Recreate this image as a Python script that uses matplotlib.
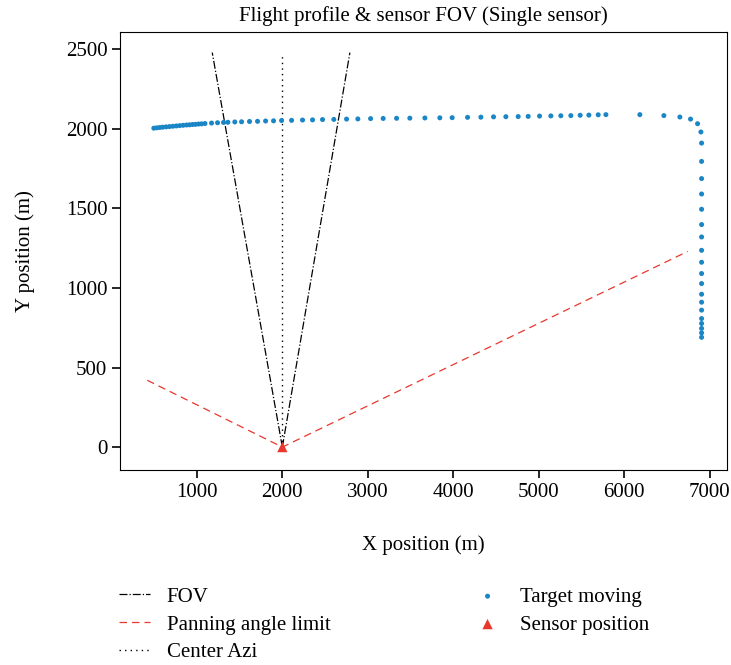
import matplotlib
matplotlib.use("Agg")
import matplotlib.pyplot as plt

plt.rcParams["font.family"] = ["Liberation Serif", "DejaVu Serif"]

# Sensor position
sensor_x = [2000]
sensor_y = [0]

# FOV edges (from the sensor outwards)
fov_left_x = [2000, 1180]
fov_left_y = [0, 2480]
fov_right_x = [2000, 2790]
fov_right_y = [0, 2480]

# Centre azimuth
center_x = [2000, 2000]
center_y = [0, 2460]

# Panning angle limits
pan_x = [420, 2000, 6740]
pan_y = [420, 0, 1230]

# Target track (m)
target_x = [497, 530, 565, 600, 640, 680, 720, 760, 800, 840, 880, 915, 950,
            985, 1020, 1055, 1095, 1172, 1242, 1312, 1363, 1444, 1523, 1616,
            1710, 1804, 1897, 1991, 2108, 2236, 2353, 2470, 2602, 2751, 2883,
            3032, 3179, 3336, 3491, 3667, 3842, 3986, 4166, 4322, 4470, 4614,
            4758, 4875, 5008, 5140, 5257, 5374, 5483, 5585, 5694, 5784, 6181,
            6462, 6649, 6774, 6856, 6895, 6903, 6903, 6903, 6903, 6903, 6903,
            6903, 6903, 6903, 6903, 6903, 6903, 6903, 6903, 6903, 6903, 6903,
            6903, 6903]
target_y = [2005, 2007, 2009, 2011, 2013, 2015, 2017, 2019, 2021, 2023, 2025,
            2026, 2028, 2029, 2031, 2032, 2034, 2037, 2039, 2041, 2042, 2044,
            2045, 2047, 2048, 2050, 2051, 2053, 2054, 2056, 2057, 2059, 2060,
            2062, 2063, 2065, 2066, 2067, 2068, 2069, 2070, 2071, 2073, 2074,
            2076, 2077, 2078, 2079, 2081, 2082, 2083, 2084, 2086, 2087, 2089,
            2090, 2090, 2084, 2075, 2062, 2033, 1981, 1911, 1796, 1688, 1591,
            1495, 1399, 1321, 1237, 1162, 1091, 1028, 961, 911, 861, 808, 777,
            746, 718, 690]

fig = plt.figure(figsize=(7.31, 6.65), dpi=100)
ax = fig.add_axes([0.164, 0.293, 0.8305, 0.659])

ax.plot(fov_left_x, fov_left_y, color="black", linestyle="-.", linewidth=0.9,
        label="FOV")
ax.plot(fov_right_x, fov_right_y, color="black", linestyle="-.", linewidth=0.9)
ax.plot(pan_x, pan_y, color="#e8372c", linestyle=(0, (6, 4)), linewidth=0.9,
        label="Panning angle limit")
ax.plot(center_x, center_y, color="black", linestyle=(0, (1, 3)),
        linewidth=1.0, label="Center Azi")
ax.scatter(target_x, target_y, s=13, color="#1a86c6", edgecolors="none",
           label="Target moving", zorder=3)
ax.scatter(sensor_x, sensor_y, s=55, marker="^", color="#e8372c",
           edgecolors="none", label="Sensor position", zorder=4)

ax.set_xlim(100, 7200)
ax.set_ylim(-145, 2610)
ax.set_xticks([1000, 2000, 3000, 4000, 5000, 6000, 7000])
ax.set_yticks([0, 500, 1000, 1500, 2000, 2500])
ax.tick_params(direction="out", length=6, width=1.2, labelsize=15, pad=3,
               right=False, top=False)

ax.set_title("Flight profile & sensor FOV (Single sensor)", fontsize=15, pad=8)
ax.set_xlabel("X position (m)", fontsize=15, labelpad=24)
ax.set_ylabel("Y position (m)", fontsize=15, labelpad=22)

ax.legend(loc="upper left", bbox_to_anchor=(-0.033, -0.224), ncol=2,
          frameon=False, fontsize=15, columnspacing=6.8, handlelength=1.5,
          handletextpad=0.8, labelspacing=0.4, markerscale=1.0)

fig.savefig("out.png", dpi=100)
